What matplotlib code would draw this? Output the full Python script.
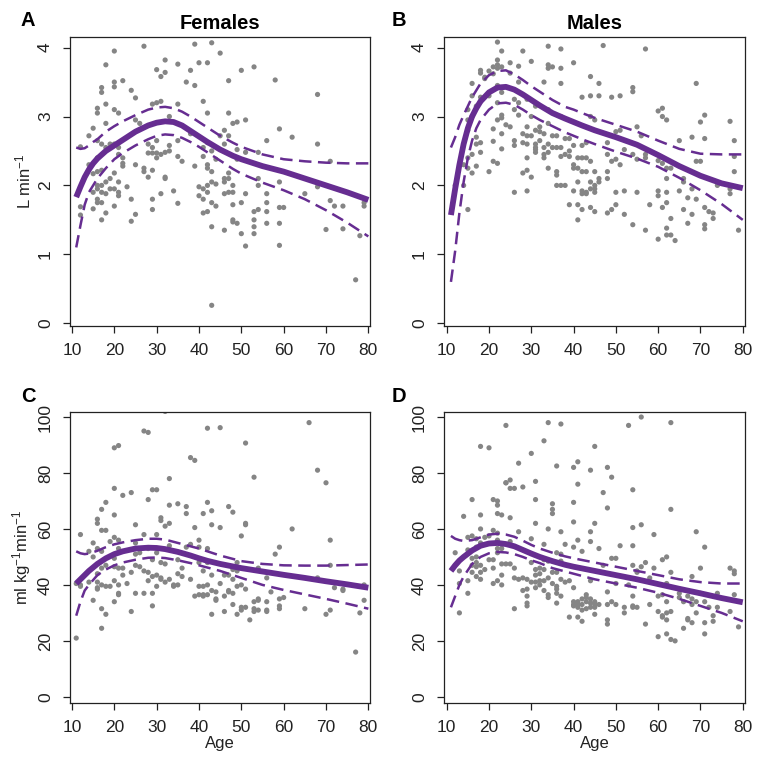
import matplotlib
matplotlib.use('Agg')
import matplotlib.pyplot as plt

plt.rcParams['font.family'] = ['Liberation Sans', 'DejaVu Sans']
plt.rcParams['mathtext.fontset'] = 'custom'
plt.rcParams['mathtext.rm'] = 'Liberation Sans'
plt.rcParams['mathtext.it'] = 'Liberation Sans:italic'
plt.rcParams['mathtext.bf'] = 'Liberation Sans:bold'

PURPLE = '#662d91'
GRAY = '#858585'
INK = '#222222'

# ---- scatter points, age -> values ----
# A: females, L/min
fem_abs = {
    12: [2.56, 1.69, 1.57], 14: [2.72, 2.3], 15: [2.83, 2.17, 1.66, 1.9],
    16: [4.2, 3.12, 3.05, 2.65, 2.4, 2.2, 2.0, 1.95, 1.8, 1.75],
    17: [3.42, 3.35, 2.6, 2.22, 2.0, 1.9, 1.75, 1.5],
    18: [3.75, 3.18, 2.9, 2.55, 2.05, 1.88, 1.6], 19: [2.6, 2.1, 1.95],
    20: [3.95, 3.5, 3.43, 3.1, 2.6, 2.18, 1.95, 1.7],
    21: [3.05, 2.55, 2.45, 2.05, 1.9, 1.85], 22: [3.52, 2.4, 2.32, 2.28],
    23: [1.98], 24: [3.38, 1.8, 1.48], 25: [3.27, 2.95, 2.3, 1.58], 26: [2.9],
    27: [4.2, 4.02, 2.25, 2.2], 28: [2.6, 2.47, 2.12],
    29: [3.18, 2.55, 2.47, 2.22, 1.8, 1.65], 30: [3.68, 3.2, 2.65, 2.47, 2.4],
    31: [3.58, 3.22, 2.45, 1.88], 32: [3.82, 3.64, 2.48, 2.12, 2.1],
    33: [3.0, 2.58, 2.5], 34: [1.92], 35: [3.76, 3.18, 2.65, 2.42, 1.74],
    36: [2.35], 37: [4.18, 3.5], 38: [3.67, 2.75], 39: [4.05, 3.45, 2.28],
    40: [3.78, 1.98, 1.85], 41: [3.22, 2.55, 2.42, 1.95, 1.8, 1.6],
    42: [3.78, 3.05, 2.62, 2.3, 2.25, 2.0, 1.9, 1.62],
    43: [4.07, 2.5, 2.2, 2.05, 1.75, 1.4, 0.26], 44: [2.38, 2.02, 1.7],
    45: [3.92, 2.72], 46: [2.8, 2.6, 2.1, 2.05, 1.88, 1.35],
    47: [3.52, 3.05, 2.72, 2.18, 2.1, 1.9], 48: [2.9, 2.0, 1.9, 1.72, 1.5, 1.47],
    49: [2.92, 2.52, 2.38, 1.45], 50: [3.67, 1.75, 1.3],
    51: [4.18, 2.95, 2.48, 1.88, 1.12], 53: [3.72, 1.62, 1.5, 1.4, 1.3],
    54: [2.48, 2.1, 2.0, 1.65], 56: [2.65, 1.88, 1.75, 1.62, 1.45], 58: [3.53],
    59: [2.82, 2.05, 1.68, 1.45, 1.13], 60: [1.68], 62: [2.7], 65: [1.88],
    68: [3.32, 2.6, 1.98], 70: [1.36], 71: [2.35, 1.78], 72: [1.7],
    74: [1.7, 1.37], 77: [0.63], 78: [1.27], 79: [1.7, 1.75],
}
# B: males, L/min
mal_abs = {
    12: [2.0], 14: [2.3, 2.0], 15: [3.1, 2.95, 2.8, 2.4, 2.25, 1.65],
    16: [3.48, 3.3, 3.0, 2.45, 2.18], 17: [3.15, 2.7, 2.6, 2.28],
    18: [3.67, 3.63, 3.28, 3.22, 2.62, 2.48], 19: [3.57, 3.55],
    20: [3.66, 3.3, 2.2], 21: [3.72, 3.62, 2.82, 2.64, 2.35],
    22: [4.08, 3.82, 3.75, 3.7, 3.45, 3.2, 2.95, 2.32],
    23: [3.95, 3.72, 3.35, 3.02, 2.98, 2.75, 2.53], 24: [2.88],
    25: [3.78, 3.63, 2.85], 26: [3.25, 3.1, 2.65, 2.58, 1.9],
    27: [3.73, 3.5, 3.2, 3.02], 28: [3.95, 2.75, 2.62, 2.18],
    29: [3.25, 2.85, 2.72, 2.6, 2.4, 2.22, 1.92], 30: [3.8, 3.0, 2.72, 2.12],
    31: [3.15, 2.8, 2.6, 2.55, 2.52, 2.48], 32: [2.85, 2.78, 2.65],
    33: [3.5, 2.75, 2.55, 2.45, 2.4],
    34: [4.02, 3.75, 3.7, 3.1, 2.9, 2.6, 2.48, 2.25], 35: [3.72, 2.72, 2.55],
    36: [2.72, 2.55, 2.2, 2.15, 2.0], 37: [3.98, 3.7, 3.48, 3.0, 2.55, 2.42, 2.0],
    38: [2.68, 2.45, 2.0], 39: [2.68, 2.5, 2.42, 1.72],
    40: [3.78, 2.58, 2.3, 2.25, 1.92], 41: [2.4, 2.25, 2.05, 1.72, 1.5],
    42: [3.28, 2.58, 2.4, 2.2, 1.92, 1.88, 1.65], 43: [2.62, 2.4, 2.2, 1.9, 1.88],
    44: [3.58, 3.3, 3.0, 2.35, 2.05, 1.95, 1.68],
    45: [2.95, 2.2, 2.0, 1.95, 1.9, 1.62], 46: [3.48, 3.3, 2.1, 2.05], 47: [4.03],
    48: [2.62, 2.45, 2.2, 2.1, 1.6], 49: [3.28, 2.35, 1.65],
    50: [2.78, 2.38, 1.9, 1.72], 51: [3.3, 2.8, 2.3], 52: [2.52, 1.92, 1.58],
    54: [3.42, 3.36, 2.45, 1.43], 55: [2.85, 2.38, 1.9], 56: [2.72],
    57: [3.98, 2.45, 2.4, 1.35], 58: [1.72], 60: [3.08, 2.36, 1.92, 1.85, 1.22],
    61: [3.12, 3.0, 2.32, 1.68], 62: [2.95, 2.25, 2.1, 1.9, 1.75, 1.38, 1.28],
    63: [2.25, 1.52, 1.28], 64: [1.2], 65: [2.65, 1.92], 66: [2.1, 2.05, 1.65],
    67: [1.82, 1.45], 68: [2.7, 1.95, 1.58], 69: [3.48, 2.35, 1.8],
    70: [2.92, 2.35], 71: [3.02, 2.68, 1.68, 1.43, 1.37], 72: [1.62],
    73: [1.6, 1.52], 74: [2.0], 77: [2.93, 1.95, 1.88], 78: [2.65, 2.42, 2.2],
    79: [1.35],
}
# C: females, ml/kg/min
fem_rel = {
    11: [21, 40.5], 12: [58, 40, 39.5], 14: [52, 41], 15: [55, 50, 34.5],
    16: [63.5, 62, 53, 44, 41, 39, 38.5], 17: [67, 59.5, 52, 46, 40, 31.5, 24.5],
    18: [69.5, 59.5, 47, 39.5, 29.5], 19: [55.5, 39.5],
    20: [89, 74.5, 65, 57, 49.5, 46.5, 41.5, 34],
    21: [89.8, 56, 53, 46, 40, 37, 36.5], 22: [72, 46, 43.5], 23: [40.5],
    24: [73, 44.5, 30.5], 25: [61.5, 55, 51, 47, 37], 26: [46.5, 51.5],
    27: [95, 58, 45, 37], 28: [94.5, 70.5, 53, 41.5, 44.5],
    29: [74, 49, 43, 37, 32.5], 30: [74, 58, 51.5, 43.5, 39.5],
    31: [64, 63, 48, 42.5, 42], 32: [102, 61, 47.5, 41],
    33: [78, 68.5, 62, 54, 42], 34: [40, 39.5], 35: [69, 49, 44, 40],
    36: [46, 43], 37: [68, 65.5, 53.5], 38: [85.5, 54.5, 42], 39: [84.5, 60.5, 36],
    40: [56, 53.5, 48, 39.5, 36.5], 41: [65.5, 45, 39.5, 36, 36.5],
    42: [96, 69.5, 53, 48, 40, 36.5], 43: [66.5, 61.5, 43.5, 38, 29.5],
    44: [37.5, 35, 34.5], 45: [96.2, 60.5, 40.5], 46: [43.5, 36, 30.5],
    47: [68, 43.5, 38, 37.5], 48: [66, 45.5, 42, 37, 33], 49: [48, 45, 39.5, 29.5],
    50: [57.5, 40, 32, 31], 51: [90.7, 62, 61.5, 38.5, 32], 52: [27.5],
    53: [78.5, 34, 31.5, 30.5], 54: [46, 35, 34.5, 31], 56: [42.5, 34, 31, 30.5],
    57: [37.5], 58: [51], 59: [53.5, 35, 32.5, 31.5], 60: [35.5], 62: [60],
    65: [31.5], 66: [98], 68: [81, 42.5], 70: [76.5, 29.5], 71: [56, 47, 31],
    72: [39], 74: [38, 38.5], 77: [16], 78: [30], 79: [40, 34.5],
}
# D: males, ml/kg/min
mal_rel = {
    12: [51.5], 13: [45, 30, 40.5], 14: [64.5], 15: [57, 52.5, 41.5, 37],
    16: [70.5, 57.5, 49.5, 47, 44.5], 17: [56.5, 53.5, 50, 48, 46.5, 43],
    18: [89.5, 65, 60, 55, 47, 44.5, 42], 19: [57, 45.5], 20: [89, 57.5, 49],
    21: [70.5, 59.5, 49, 46, 40.5], 22: [70, 68.5, 65.5, 58.5, 56, 53, 51.5, 41.5],
    23: [65, 54.5, 53, 47.5, 43.5, 40], 24: [97, 76.5, 76.5, 47.5],
    25: [77.5, 74.5, 64, 55.5, 47.5], 26: [74.5, 46, 42.5, 31.5],
    27: [83.5, 59, 42], 28: [75, 42.5, 38], 29: [42, 38.5, 36, 33.5, 32.5],
    30: [87, 56.5, 48, 41], 31: [77, 70.5, 62, 45.5, 43.5, 41, 39],
    32: [46, 44, 41.5, 40], 33: [91.5, 54.5, 49, 45.5, 41.5, 38],
    34: [98, 60, 48.5, 42.5, 36.5, 35.5], 35: [69, 67, 65.5, 44.5, 40.5],
    36: [82.5, 51.5, 44.5, 39.5, 38.5, 37, 33.5], 37: [97.5, 59, 51, 48.5, 42, 36],
    38: [54.5, 41], 39: [41.5, 28.5], 40: [82, 69.5, 62.5, 53.5, 39, 34, 33, 32.5],
    41: [84, 76, 56, 34, 33, 32, 28.5], 42: [52, 35, 33, 31, 27],
    43: [36.5, 35.5, 34, 31.5], 44: [81, 59, 55.5, 41.5, 35, 33.5, 32],
    45: [89.5, 62, 34, 33, 32, 29.5], 46: [53, 33], 47: [73, 47],
    48: [82, 67.5, 37.5, 33, 27.5, 26], 49: [78.5, 49.5, 34], 50: [49.5, 40.5, 33],
    51: [54], 52: [32, 30], 53: [97, 40], 54: [74, 60.5, 54, 47, 36, 32.5, 32],
    55: [45, 44.5, 32], 56: [100, 61.5, 46.5], 57: [48, 26], 58: [42.5, 33],
    59: [58, 46], 60: [36, 30.5, 21.5], 61: [49, 36.5, 29, 28.5],
    62: [50, 40.5, 34, 30, 27.5, 22.5], 63: [98, 67, 44.5, 30.5, 20.5], 64: [20],
    65: [37, 35.5], 66: [34, 24.5], 67: [36, 28, 27.5], 68: [43, 35, 26.5, 33],
    69: [59, 34, 30], 70: [46, 37], 71: [53.5, 34, 26.5, 22.5], 72: [32],
    73: [29, 27], 74: [32, 37], 77: [46, 30.5], 78: [45, 44, 36.5], 79: [25],
}

# ---- fitted curves with confidence bands ----
a_age = [11, 12, 13, 14, 15, 16, 18, 20, 22, 25, 28, 30, 32, 34, 36, 38, 40, 42,
         45, 48, 50, 55, 60, 65, 70, 75, 80]
a_fit = [1.83, 1.98, 2.12, 2.23, 2.32, 2.39, 2.5, 2.58, 2.66, 2.78, 2.87, 2.91, 2.93,
         2.92, 2.87, 2.79, 2.71, 2.63, 2.52, 2.43, 2.38, 2.28, 2.2, 2.1, 2.0, 1.9, 1.79]
a_up = [2.55, 2.53, 2.54, 2.58, 2.63, 2.67, 2.78, 2.86, 2.93, 3.02, 3.1, 3.13, 3.14,
        3.12, 3.07, 3.0, 2.92, 2.84, 2.72, 2.62, 2.56, 2.45, 2.38, 2.35, 2.33, 2.32, 2.32]
a_lo = [1.1, 1.42, 1.72, 1.9, 2.0, 2.1, 2.25, 2.38, 2.47, 2.58, 2.67, 2.72, 2.74,
        2.73, 2.69, 2.63, 2.56, 2.48, 2.36, 2.24, 2.17, 2.04, 1.93, 1.8, 1.64, 1.46, 1.26]

b_age = [11, 12, 13, 14, 15, 16, 17, 18, 20, 22, 24, 26, 28, 30, 32, 35, 38, 40, 42,
         45, 50, 55, 60, 65, 70, 75, 80]
b_fit = [1.57, 1.95, 2.3, 2.6, 2.83, 3.0, 3.12, 3.22, 3.35, 3.42, 3.43, 3.39, 3.32,
         3.24, 3.16, 3.05, 2.97, 2.92, 2.87, 2.8, 2.7, 2.59, 2.44, 2.28, 2.14, 2.03, 1.96]
b_up = [2.55, 2.7, 2.88, 3.02, 3.15, 3.28, 3.38, 3.48, 3.6, 3.66, 3.67, 3.61, 3.53,
        3.44, 3.36, 3.24, 3.14, 3.1, 3.05, 2.98, 2.88, 2.78, 2.65, 2.53, 2.46, 2.45, 2.45]
b_lo = [0.6, 1.05, 1.6, 2.05, 2.4, 2.65, 2.83, 2.95, 3.1, 3.19, 3.2, 3.17, 3.1, 3.02,
        2.95, 2.86, 2.77, 2.72, 2.67, 2.6, 2.49, 2.39, 2.27, 2.11, 1.93, 1.73, 1.5]

c_age = [11, 12, 13, 14, 16, 18, 20, 22, 25, 28, 30, 32, 35, 38, 40, 42, 45, 50, 55,
         60, 65, 70, 75, 80]
c_fit = [40.5, 42, 43.5, 45, 47.5, 49.5, 51, 52, 53, 53.3, 53.2, 52.8, 51.8, 50.5,
         49.5, 48.6, 47.5, 46, 44.8, 43.6, 42.5, 41.3, 40.2, 39]
c_up = [52, 51.3, 51, 51.2, 52.2, 53.5, 54.5, 55.2, 56, 56.5, 56.5, 56.2, 55, 53.8,
        53, 52, 50.5, 48.5, 47.5, 47, 46.9, 46.9, 47.1, 47.3]
c_lo = [29, 34, 38, 40, 43.5, 45.5, 47, 48, 49, 49.7, 49.8, 49.6, 48.8, 47.8, 47,
        46.2, 45, 42.5, 40, 38.2, 36.6, 35, 33.3, 31.5]

d_age = [11, 12, 13, 14, 16, 18, 20, 22, 24, 26, 28, 30, 32, 35, 38, 40, 45, 50, 55,
         60, 65, 70, 75, 80]
d_fit = [45, 47, 48.7, 50, 52.3, 54, 54.8, 55, 54.6, 53.8, 52.5, 51.2, 50, 48.5,
         47.2, 46.5, 45, 43.5, 42, 40.3, 38.6, 37, 35.3, 33.8]
d_up = [57.5, 56.5, 56, 55.7, 56, 57, 58, 58.3, 58, 57.2, 55.8, 54.3, 53, 51.5,
        50.2, 49.5, 48, 46.5, 45, 43.5, 42, 41, 40.5, 40.5]
d_lo = [32, 36, 40, 43, 47.5, 50, 51.3, 51.8, 51.6, 51, 50, 48.8, 47.8, 46, 44.8,
        44, 42, 40.5, 39, 37.2, 35, 32.5, 30, 27]

x_ticks = [10, 20, 30, 40, 50, 60, 70, 80]
abs_ticks = [0, 1, 2, 3, 4]
rel_ticks = [0, 20, 40, 60, 80, 100]


def flatten(pts):
    xs, ys = [], []
    for age, vals in pts.items():
        for v in vals:
            xs.append(age)
            ys.append(v)
    return xs, ys


fig = plt.figure(figsize=(7.65, 7.62), dpi=100)

panels = [
    # rect, letter, title, pts, age, fit, up, lo, ylim, yticks, ylabel, xlabel, xlim
    ([0.0915, 0.5722, 0.3922, 0.3789], 'A', 'Females', fem_abs, a_age, a_fit, a_up, a_lo,
     (-0.04, 4.15), abs_ticks, r'L min$^{-1}$', None, (9.53, 80.4)),
    ([0.5804, 0.5722, 0.3935, 0.3789], 'B', 'Males', mal_abs, b_age, b_fit, b_up, b_lo,
     (-0.04, 4.15), abs_ticks, None, None, (9.36, 80.54)),
    ([0.0915, 0.0778, 0.3922, 0.3819], 'C', None, fem_rel, c_age, c_fit, c_up, c_lo,
     (-2.1, 101.9), rel_ticks, r'ml kg$^{-1}$min$^{-1}$', 'Age', (9.53, 80.4)),
    ([0.5804, 0.0778, 0.3935, 0.3819], 'D', None, mal_rel, d_age, d_fit, d_up, d_lo,
     (-2.1, 101.9), rel_ticks, None, 'Age', (9.36, 80.54)),
]

for rect, letter, title, pts, age, fit, up, lo, ylim, yticks, ylab, xlab, xlim in panels:
    ax = fig.add_axes(rect)
    xs, ys = flatten(pts)
    ax.scatter(xs, ys, s=14, color=GRAY, edgecolors='none', zorder=2)
    ax.plot(age, up, color=PURPLE, lw=1.8, dashes=(5, 2.6), zorder=3)
    ax.plot(age, lo, color=PURPLE, lw=1.8, dashes=(5, 2.6), zorder=3)
    ax.plot(age, fit, color=PURPLE, lw=4.2, solid_capstyle='butt', zorder=4)

    ax.set_xlim(*xlim)
    ax.set_ylim(*ylim)
    ax.set_xticks(x_ticks)
    ax.set_yticks(yticks)
    ax.tick_params(axis='both', direction='out', length=5.2, width=0.9,
                   colors=INK, labelsize=12.5, pad=7)
    ax.tick_params(axis='y', labelrotation=90)
    for lab in ax.get_yticklabels():
        lab.set_verticalalignment('center')
    for sp in ax.spines.values():
        sp.set_linewidth(0.9)
        sp.set_color(INK)

    if ylab:
        ax.set_ylabel(ylab, fontsize=12, color=INK)
        ax.yaxis.set_label_coords(-0.123, 0.5)
    if xlab:
        ax.set_xlabel(xlab, fontsize=12, color=INK, labelpad=1)
    if title:
        ax.set_title(title, fontsize=14.5, fontweight='bold', color='black', pad=6)
    ax.text(-0.14 if letter in 'AC' else -0.15, 1.059 if letter in 'AB' else 1.052,
            letter, transform=ax.transAxes, fontsize=14.5, fontweight='bold',
            ha='center', va='center', color='black')

fig.savefig('out.png', dpi=100)
